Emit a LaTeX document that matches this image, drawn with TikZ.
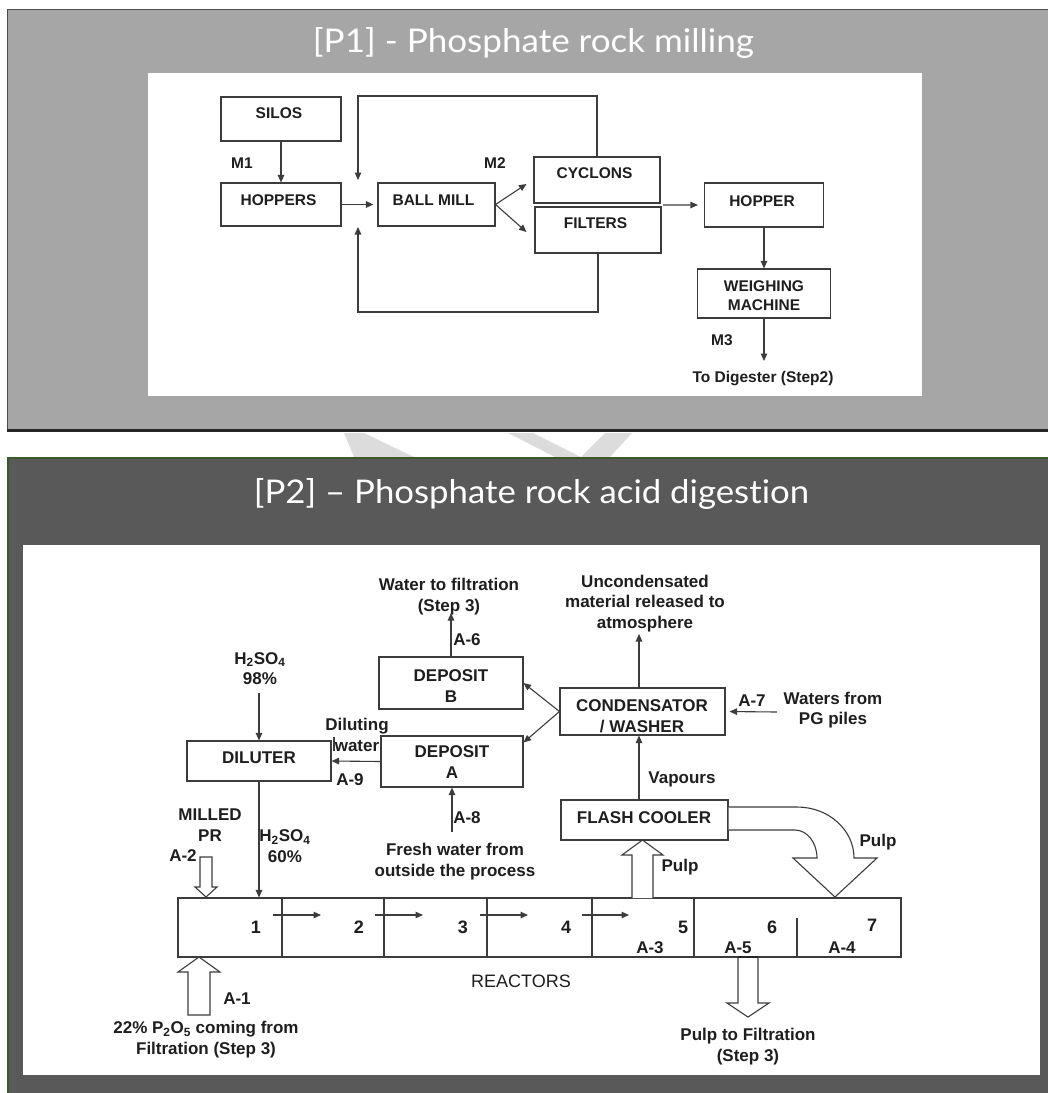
\documentclass[tikz,border=0pt]{standalone}
\usepackage{fontspec}
\setmainfont{Liberation Sans}
\newfontfamily\titlefont[Ligatures=NoCommon]{Lato}
\usetikzlibrary{arrows.meta,calc}
\definecolor{pone}{HTML}{A6A6A6}
\definecolor{ptwo}{HTML}{595959}
\definecolor{linec}{HTML}{3C3C3C}
\definecolor{txt}{HTML}{1E1E1E}
\definecolor{gborder}{HTML}{3B5A2A}
\definecolor{wmark}{HTML}{DCDCDC}
\begin{document}
\begin{tikzpicture}[x=1pt,y=-1pt,
  box/.style={draw=linec, line width=1.1pt, inner sep=0pt},
  arr/.style={-{Triangle[length=7.5pt,width=6.5pt]}, line width=1.1pt, draw=linec},
  ln/.style={line width=1.1pt, draw=linec},
  hollow/.style={draw=linec, line width=1.1pt, fill=white, line join=miter},
  ta/.style={font=\bfseries\fontsize{15.5}{18.5}\selectfont, inner sep=0pt, text=txt, anchor=base, align=center},
  tb/.style={font=\bfseries\fontsize{17}{20.5}\selectfont, inner sep=0pt, text=txt, align=center},
  tbb/.style={tb, anchor=base},
  tnum/.style={font=\bfseries\fontsize{18}{20}\selectfont, inner sep=0pt, text=txt, anchor=base},
  ttl/.style={text=white, inner sep=0pt, anchor=base}]
\useasboundingbox (0,0) rectangle (1048,1093);
\fill[white] (0,0) rectangle (1048,1093);
% ---------- panel 1 ----------
\fill[pone] (7,9) rectangle (1048,431);
\draw[black!70, line width=1pt] (1048,9.5) -- (7.5,9.5) -- (7.5,431);
\draw[black!85, line width=2.5pt] (7,430.5) -- (1048,430.5);
\fill[white] (148,73) rectangle (922,396);
\node[ttl] (title1) at (533.5,52) {\resizebox{441pt}{25pt}{\titlefont [P1] - Phosphate rock milling}};
% watermark fragments
\fill[wmark] (344,433) -- (364,433) -- (414,457) -- (354,457) -- cycle;
\fill[wmark] (508,433) -- (533,433) -- (581,457) -- (555,457) -- cycle;
\fill[wmark] (605,433) -- (632,433) -- (610,457) -- (581,457) -- cycle;
% boxes
\node[box, minimum width=120pt, minimum height=44pt] (silos) at (281,119) {};
\node[box, minimum width=120pt, minimum height=43pt] (hoppers) at (281,204.5) {};
\node[box, minimum width=117pt, minimum height=43pt] (ballmill) at (436.5,204.5) {};
\node[box, minimum width=126pt, minimum height=46pt] (cyclons) at (597,180) {};
\node[box, minimum width=126pt, minimum height=46pt] (filters) at (598,230) {};
\node[box, minimum width=119pt, minimum height=44pt] (hopper) at (764,205) {};
\node[box, minimum width=133pt, minimum height=49pt] (weigh) at (764,293.5) {};
% texts
\node[ta] (tsilos) at (279,118.5) {SILOS};
\node[ta] (thoppers) at (278.5,205.5) {HOPPERS};
\node[ta] (tball) at (433.5,205.5) {BALL MILL};
\node[ta] (tcyc) at (594.5,178.5) {CYCLONS};
\node[ta] (tfil) at (595.5,228.5) {FILTERS};
\node[ta] (thop) at (762,206.5) {HOPPER};
\node[ta] (tweigh1) at (764,291.5) {WEIGHING};
\node[ta] (tweigh2) at (764,310.5) {MACHINE};
\node[ta] (m1) at (242,168.5) {M1};
\node[ta] (m2) at (495,168.5) {M2};
\node[ta] (m3) at (722,345.5) {M3};
\node[ta] (todig) at (763,382.5) {To Digester (Step2)};
% connectors
\coordinate (topin) at (358,180);
\coordinate (botin) at (358,227);
\coordinate (digend) at (764,361);
\draw[arr] (silos.south) -- (hoppers.north);
\draw[arr, shorten >=4pt] (hoppers.east) -- (ballmill.west);
\draw[arr] (ballmill.east) -- ($(cyclons.west)+(-7,4)$);
\draw[arr] (ballmill.east) -- ($(filters.west)+(-8,2)$);
\draw[arr, shorten >=6pt] ($(cyclons.south east)!0.5!(filters.north east)+(2,0)$) -- (hopper.west);
\draw[arr] (cyclons.north) -- (cyclons.north |- 0,96) -| (topin);
\draw[arr] (filters.south) -- (filters.south |- 0,312) -| (botin);
\draw[arr] (hopper.south) -- (weigh.north);
\draw[arr] (weigh.south) -- (digend);
% ---------- panel 2 ----------
\fill[ptwo] (7,458) rectangle (1048,1093);
\draw[gborder, line width=2pt] (1048,458) -- (8,458) -- (8,1093);
\fill[white] (23,545) rectangle (1040,1075);
\node[ttl] (title2) at (531.5,503) {\resizebox{555pt}{25pt}{\titlefont [P2] – Phosphate rock acid digestion}};
% boxes
\node[box, minimum width=144pt, minimum height=52pt] (depB) at (451,683) {};
\node[box, minimum width=142pt, minimum height=51pt] (depA) at (452,761.5) {};
\node[box, minimum width=144pt, minimum height=40pt] (diluter) at (259,761) {};
\node[box, minimum width=165pt, minimum height=47pt] (cond) at (642.5,711.5) {};
\node[box, minimum width=167pt, minimum height=40pt] (flash) at (644.5,820) {};
\node[box, minimum width=723pt, minimum height=59pt] (reactors) at (539.5,927.5) {};
% reactor dividers
\foreach \xx in {282,384,487,592,694} \draw[ln] (\xx,898) -- (\xx,957);
\draw[ln] (797,918) -- (797,957);
% texts in boxes
\node[tb] (tdepB) at (451,686) {DEPOSIT\\B};
\node[tb] (tdepA) at (452,762) {DEPOSIT\\A};
\node[tbb] (tdil) at (259,763) {DILUTER};
\node[tb] (tcond) at (642,716) {CONDENSATOR\\/ WASHER};
\node[tbb] (tflash) at (644,823) {FLASH COOLER};
\node[tnum] (n1) at (256,933) {1};
\node[tnum] (n2) at (359,933) {2};
\node[tnum] (n3) at (463,933) {3};
\node[tnum] (n4) at (566,933) {4};
\node[tnum] (n5) at (683,933) {5};
\node[tnum] (n6) at (772,933) {6};
\node[tnum] (n7) at (872,931) {7};
\node[tbb] (a3) at (650,953) {A-3};
\node[tbb] (a5) at (738,953) {A-5};
\node[tbb] (a4) at (842,953) {A-4};
\node[inner sep=0pt, anchor=base, text=txt, font=\fontsize{18}{20}\selectfont] (treac) at (521,987) {REACTORS};
% labels
\node[tb] (twf) at (449,596.5) {Water to filtration\\(Step 3)};
\node[tb] (tunc) at (645,603.5) {Uncondensated\\material released to\\atmosphere};
\node[tb] (th98) at (260,668.5) {H\textsubscript{2}SO\textsubscript{4}\\98\%};
\node[tb] (tdw) at (357,735) {Diluting\\water};
\node[tb] (tpg) at (833,710) {Waters from\\PG piles};
\node[tb] (tmpr) at (210,825) {MILLED\\PR};
\node[tb] (th60) at (285,846) {H\textsubscript{2}SO\textsubscript{4}\\60\%};
\node[tb] (tfresh) at (455,861.5) {Fresh water from\\outside the process};
\node[tb] (t22) at (206,1039.5) {22\% P\textsubscript{2}O\textsubscript{5} coming from\\Filtration (Step 3)};
\node[tb] (tptf) at (748,1046.5) {Pulp to Filtration\\(Step 3)};
\node[tbb] (a6) at (467,645) {A-6};
\node[tbb] (a9) at (350,785) {A-9};
\node[tbb] (a8) at (467,823) {A-8};
\node[tbb] (a7) at (752,706) {A-7};
\node[tbb] (a2) at (183,861) {A-2};
\node[tbb] (a1) at (237,1004) {A-1};
\node[tbb] (tvap) at (682,783) {Vapours};
\node[tbb] (tpulp1) at (680,871) {Pulp};
\node[tbb] (tpulp2) at (878,846) {Pulp};
\draw[ln] (334,737) -- (334,751);
% connectors
\coordinate (wtf) at (451,613);
\coordinate (atm) at (639,634);
\coordinate (pg) at (777,712);
\coordinate (h98) at (259,693);
\coordinate (fw) at (452,832);
\draw[arr] (depB.north) -- (wtf);
\draw[arr] (cond.north -| atm) -- (atm);
\draw[arr] (cond.west) -- (depB.east);
\draw[arr] (cond.west) -- ($(depA.north east)+(0,7)$);
\draw[arr, shorten >=4pt] (pg) -- (cond.east);
\draw[arr] (flash.north -| atm) -- (cond.south -| atm);
\draw[arr] (depA.west) -- (diluter.east);
\draw[arr] (h98) -- (diluter.north);
\draw[arr] (fw) -- (depA.south);
\draw[arr] (diluter.south) -- (diluter.south |- reactors.north);
% arrows inside the reactors
\draw[arr] (273,915) -- ++(48,0);
\draw[arr] (375,915) -- ++(48,0);
\draw[arr] (480,915) -- ++(48,0);
\draw[arr] (582,915) -- ++(47,0);
% hollow arrows
\draw[hollow] (200,857) -- (212,857) -- (212,887) -- (217,887) -- (206,897) -- (195,887) -- (200,887) -- cycle;
\draw[hollow] (188,1015) -- (210,1015) -- (210,972) -- (220,972) -- (199,957) -- (178,972) -- (188,972) -- cycle;
\draw[hollow] (632,898) -- (632,855) -- (622,855) -- (642.5,840) -- (663,855) -- (653,855) -- (653,898);
\draw[hollow] (738,957) -- (738,1003) -- (727,1003) -- (748,1017) -- (769,1003) -- (758,1003) -- (758,957);
\draw[line width=1.6pt, draw=black!85] (738,957) -- (758,957);
\draw[hollow] (728.5,807) -- (797,807) .. controls (828.5,807) and (854,829.8) .. (854,858) -- (877,858) -- (835,897) -- (793,858) -- (817,858) .. controls (817,842.5) and (807,830) .. (795,830) -- (728.5,830);
\end{tikzpicture}
\end{document}
